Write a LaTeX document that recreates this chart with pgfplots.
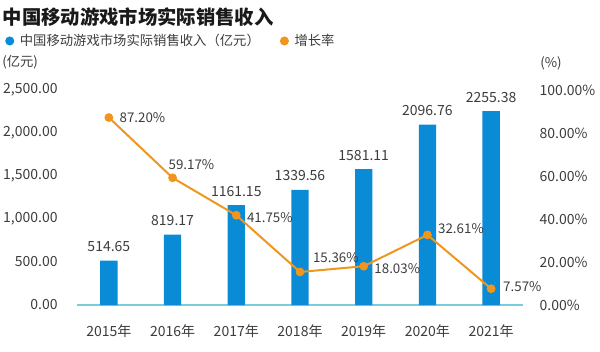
\documentclass[border=0pt]{standalone}
\usepackage{pgfplots}
\usepackage{pgfplotstable}
\pgfplotsset{compat=1.18}
\usepackage{fontspec}
\setmainfont{Noto Sans CJK SC}
\definecolor{barblue}{RGB}{10,139,214}
\definecolor{lineor}{RGB}{240,150,30}
\definecolor{axisteal}{RGB}{124,203,219}
\definecolor{txt}{RGB}{60,60,60}

\pgfplotstableread{
x rev revlab
0 514.65 514.65
1 819.17 819.17
2 1161.15 1161.15
3 1339.56 1339.56
4 1581.11 1581.11
5 2096.76 2096.76
6 2255.38 2255.38
}\revtable

\pgfplotstableread{
x g glab dx dy
0 87.20 87.20 4 0
1 59.17 59.17 -7 9.75
2 41.75 41.75 4 -1.5
3 15.36 15.36 5.7 11
4 18.03 18.03 4 -2
5 32.61 32.61 4 5
6 7.57 7.57 5 1.5
}\growtable

\begin{document}
\begin{tikzpicture}
\path[use as bounding box] (0,0) rectangle (450pt,263.25pt);
\node[anchor=west, inner sep=0, font=\fontsize{14.5}{16}\selectfont\bfseries, text=black!90] at (2pt,250.5pt) {中国移动游戏市场实际销售收入};
\node[anchor=west, inner sep=0, font=\fontsize{10}{12}\selectfont, text=txt] at (1.5pt,216.5pt) {(亿元)};
\node[anchor=west, inner sep=0, font=\fontsize{10}{12}\selectfont, text=txt] at (405pt,216pt) {(\%)};
\begin{axis}[
  at={(57.75pt,34.5pt)}, anchor=south west,
  scale only axis, width=334.5pt, height=161.25pt,
  xmin=-0.5, xmax=6.5, ymin=0, ymax=2500,
  axis x line*=bottom, axis y line*=left,
  x axis line style={draw=axisteal, line width=0.8pt, -},
  y axis line style={draw=none},
  xtick={0,...,6},
  xticklabels={2015年,2016年,2017年,2018年,2019年,2020年,2021年},
  ytick={0,500,...,2500},
  major tick length=0,
  tick label style={font=\fontsize{10.5}{12}\selectfont, text=txt},
  yticklabel style={xshift=-11pt, /pgf/number format/.cd, fixed, fixed zerofill, precision=2, 1000 sep={,}, assume math mode=true},
  xticklabel style={yshift=-11.5pt},
  ybar, bar width=13pt,
  nodes near coords, point meta=explicit symbolic,
  nodes near coords style={font=\fontsize{10.5}{12}\selectfont, text=txt, anchor=south, yshift=3pt},
  clip=false,
]
\addplot[fill=barblue, draw=none] table[x=x, y=rev, meta=revlab]{\revtable};
\end{axis}
\begin{axis}[
  at={(57.75pt,34.5pt)}, anchor=south west,
  scale only axis, width=334.5pt, height=161.25pt,
  xmin=-0.5, xmax=6.5, ymin=0, ymax=100,
  axis x line=none, axis y line*=right,
  y axis line style={draw=none},
  ytick={0,20,...,100},
  yticklabel={\pgfmathprintnumber[fixed,fixed zerofill,precision=2,assume math mode=true]{\tick}\%},
  major tick length=0,
  tick label style={font=\fontsize{10.5}{12}\selectfont, text=txt},
  yticklabel style={xshift=9pt},
  clip=false,
  legend style={at={(-0.1615,1.228)}, anchor=west, draw=none, fill=none, legend columns=2,
    font=\fontsize{10}{12}\selectfont, text=txt, inner sep=0pt,
    /tikz/every even column/.append style={column sep=13pt}},
  legend cell align=left,
]
\addlegendimage{legend image code/.code={\fill[barblue, draw=none] (3.4pt,0pt) circle (3.4pt); \path[draw=none, fill=none] (0pt,0pt) -- (9pt,0pt);}}
\addlegendentry{中国移动游戏市场实际销售收入（亿元）}
\addlegendimage{legend image code/.code={\fill[lineor, draw=none] (3.4pt,0pt) circle (3.4pt); \path[draw=none, fill=none] (0pt,0pt) -- (9pt,0pt);}}
\addlegendentry{增长率}
\addplot[lineor, line width=1.5pt, mark=*, mark size=2.5pt, mark options={fill=lineor, draw=lineor},
  nodes near coords={\pgfplotspointmeta\%}, point meta=explicit symbolic,
  visualization depends on={\thisrow{dx}\as\dx},
  visualization depends on={\thisrow{dy}\as\dy},
  every node near coord/.append style={anchor=west, xshift=\dx*1pt, yshift=\dy*1pt, font=\fontsize{10}{12}\selectfont, text=txt}]
  table[x=x, y=g, meta=glab]{\growtable};
\end{axis}
\end{tikzpicture}
\end{document}
